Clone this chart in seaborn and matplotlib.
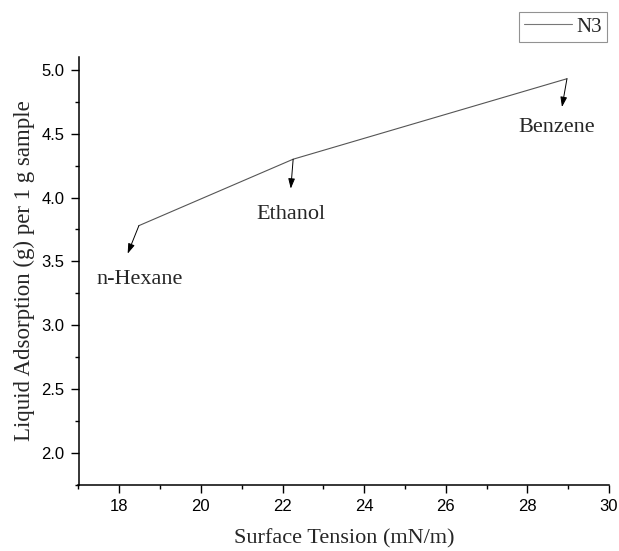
import matplotlib
matplotlib.use("Agg")
import matplotlib.pyplot as plt
import seaborn as sns
import pandas as pd
from matplotlib.ticker import MultipleLocator

# Data
solvents = ["n-Hexane", "Ethanol", "Benzene"]
surface_tension = [18.48, 22.26, 28.97]
adsorption = [3.78, 4.30, 4.93]
series_name = "N3"

df = pd.DataFrame({"Surface Tension": surface_tension,
                   "Adsorption": adsorption,
                   "Sample": [series_name] * len(solvents)})

sns.set_style("ticks")
plt.rcParams["font.family"] = ["Liberation Sans", "DejaVu Sans"]

fig = plt.figure(figsize=(6.19, 5.51), dpi=100)
ax = fig.add_axes([78.5 / 619, 1 - 485 / 551, (609 - 78.5) / 619, (485 - 57) / 551])

sns.lineplot(data=df, x="Surface Tension", y="Adsorption", hue="Sample",
             palette=["#555555"], linewidth=0.8, sort=False, ax=ax, legend=False)

ax.set_xlim(17, 30)
ax.set_ylim(1.75, 5.1)
ax.xaxis.set_major_locator(MultipleLocator(2))
ax.xaxis.set_minor_locator(MultipleLocator(1))
ax.yaxis.set_major_locator(MultipleLocator(0.5))
ax.yaxis.set_minor_locator(MultipleLocator(0.25))
ax.tick_params(which="major", length=6, width=1, labelsize=12, pad=4, direction="out", colors="black")
ax.tick_params(which="minor", length=2.6, width=1, direction="out", colors="black")
sns.despine(ax=ax)
for s in ["left", "bottom"]:
    ax.spines[s].set_linewidth(1.1)
    ax.spines[s].set_color("black")

ax.set_xlabel("Surface Tension (mN/m)", fontsize=16, family=["Liberation Serif"], labelpad=11)
ax.set_ylabel("Liquid Adsorption (g) per 1 g sample", fontsize=16.5, family=["Liberation Serif"])
ax.yaxis.set_label_coords(-0.082, 0.5)

# annotation styling (offsets in points)
arrow_offsets = [(-8.1, -20.2), (-1.7, -21.2), (-3.6, -20.4)]
text_offsets = [(0.7, -38.5), (-1.5, -39.6), (-7.4, -35.0)]
for name, x, y, ao, to in zip(solvents, surface_tension, adsorption, arrow_offsets, text_offsets):
    ax.annotate("", xy=(x, y), xytext=ao, textcoords="offset points",
                arrowprops=dict(arrowstyle="<|-,head_length=0.6,head_width=0.2",
                                color="black", lw=0.7, shrinkA=0, shrinkB=0))
    ax.annotate(name, xy=(x, y), xytext=to, textcoords="offset points",
                ha="center", va="center", fontsize=16, family=["Liberation Serif"])

handle = plt.Line2D([], [], color="#777777", lw=0.8)
leg = fig.legend([handle], [series_name], loc="upper right",
                 bbox_to_anchor=(607 / 619, 1 - 12 / 551),
                 fancybox=False, frameon=True, handlelength=2.3, handletextpad=0.2,
                 borderpad=0.25, borderaxespad=0,
                 prop={"family": "Liberation Serif", "size": 15})
leg.get_frame().set_edgecolor("#777777")
leg.get_frame().set_linewidth(0.8)

fig.savefig("out.png", dpi=100)
